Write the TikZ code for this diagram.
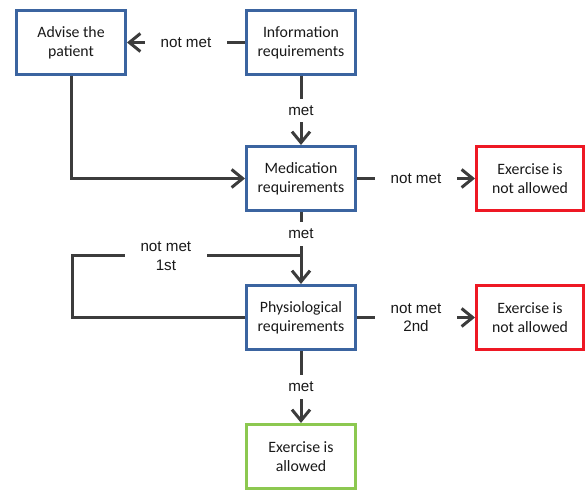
\documentclass[tikz,border=0pt]{standalone}
\usepackage{fontspec}
\setmainfont{Carlito}
\newfontfamily\lblfont{Liberation Sans}
\usetikzlibrary{arrows.meta, positioning}
\definecolor{reqblue}{RGB}{59,100,160}
\definecolor{stopred}{RGB}{238,24,36}
\definecolor{okgreen}{RGB}{140,200,80}
\definecolor{linegray}{RGB}{60,60,60}
\tikzset{
  decbox/.style={
    rectangle, line width=1.5pt,
    minimum width=54.5pt, minimum height=32pt,
    align=center, font=\fontsize{7.9}{9.5}\selectfont,
    draw=#1, fill=white, text=black!90
  },
  reqbox/.style={decbox=reqblue},
  stopbox/.style={decbox=stopred, minimum width=53.5pt},
  okbox/.style={decbox=okgreen},
  flowline/.style={line width=1.5pt, color=linegray},
  flowarrow/.style={flowline, -{Straight Barb[length=5.5pt,width=9pt]}},
  flowlbl/.style={
    fill=white, align=center, inner xsep=8pt, inner ysep=3.5pt,
    font=\lblfont\fontsize{7.6}{9.3}\selectfont, text=black!90
  },
}
\begin{document}
\begin{tikzpicture}[x=0.5pt,y=-0.5pt,node distance=34.5pt and 59pt]
  \useasboundingbox (0,0) rectangle (585,491);
  % boxes
  \node[reqbox] (info) at (301,42.5) {Information\\requirements};
  \node[reqbox,left=of info] (adv) {Advise the\\patient};
  \node[reqbox,below=of info] (med) {Medication\\requirements};
  \node[stopbox,right=of med] (nomed) {Exercise is\\not allowed};
  \node[reqbox,below=36pt of med] (phys) {Physiological\\requirements};
  \node[stopbox,right=of phys] (nophys) {Exercise is\\not allowed};
  \node[okbox,below=36pt of phys] (ok) {Exercise is\\allowed};
  \coordinate[below=22pt of med] (join);
  % connectors
  \draw[flowarrow] (info) -- node[flowlbl]{not met} (adv);
  \draw[flowarrow] (info) -- node[flowlbl]{met} (med);
  \draw[flowarrow] (adv) |- (med);
  \draw[flowarrow] (med) -- node[flowlbl]{not met} (nomed);
  \draw[flowline] (med) -- node[flowlbl]{met} (join);
  \draw[flowline] (phys.west) -- ++(-173,0) |- node[flowlbl,pos=0.705]{not met\\1st} (join);
  \draw[flowarrow] (join) -- (phys);
  \draw[flowarrow] (phys) -- node[flowlbl]{not met\\2nd} (nophys);
  \draw[flowarrow] (phys) -- node[flowlbl]{met} (ok);
\end{tikzpicture}
\end{document}
